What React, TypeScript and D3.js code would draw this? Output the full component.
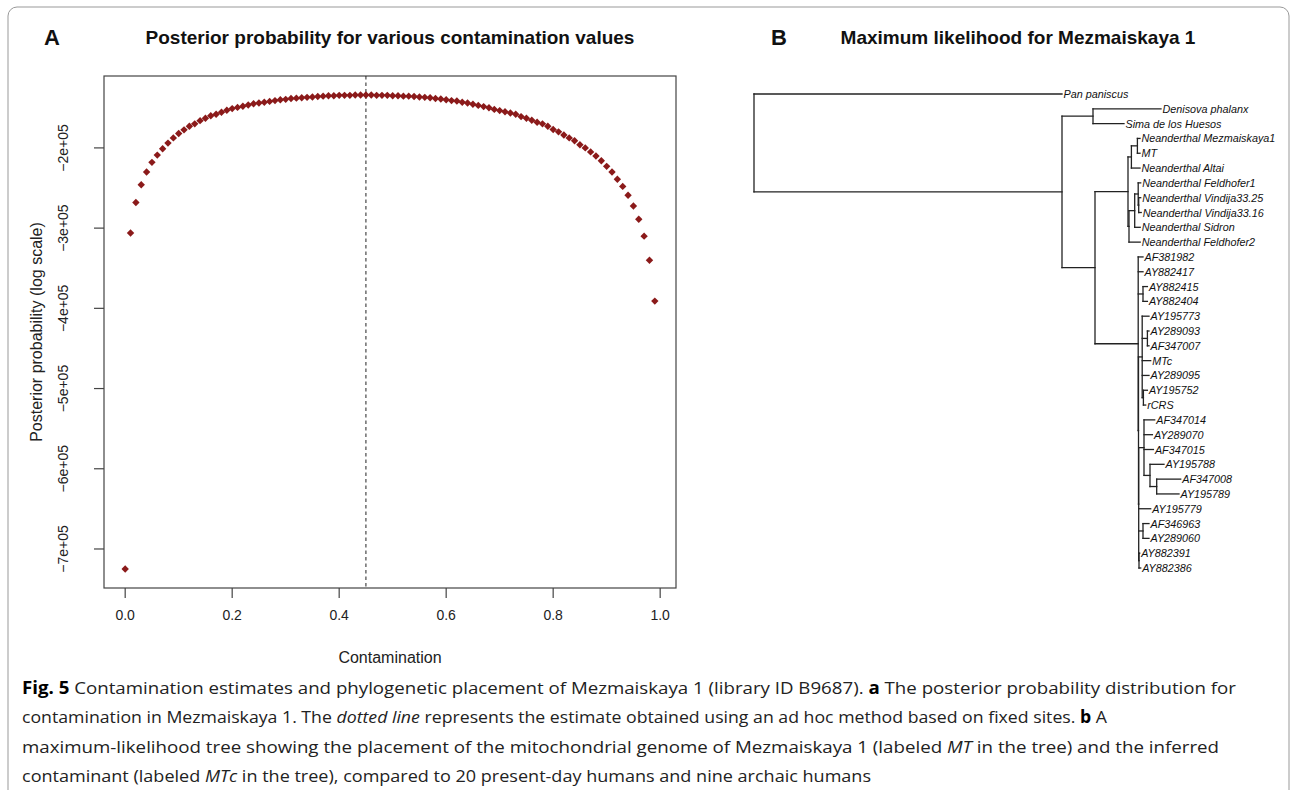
import * as React from 'react';
import * as d3 from 'd3';

// ---- panel A data: contamination grid and log posterior (x 1e5) ----
const contamination = [
  0.00, 0.01, 0.02, 0.03, 0.04, 0.05, 0.06, 0.07, 0.08, 0.09,
  0.10, 0.11, 0.12, 0.13, 0.14, 0.15, 0.16, 0.17, 0.18, 0.19,
  0.20, 0.21, 0.22, 0.23, 0.24, 0.25, 0.26, 0.27, 0.28, 0.29,
  0.30, 0.31, 0.32, 0.33, 0.34, 0.35, 0.36, 0.37, 0.38, 0.39,
  0.40, 0.41, 0.42, 0.43, 0.44, 0.45, 0.46, 0.47, 0.48, 0.49,
  0.50, 0.51, 0.52, 0.53, 0.54, 0.55, 0.56, 0.57, 0.58, 0.59,
  0.60, 0.61, 0.62, 0.63, 0.64, 0.65, 0.66, 0.67, 0.68, 0.69,
  0.70, 0.71, 0.72, 0.73, 0.74, 0.75, 0.76, 0.77, 0.78, 0.79,
  0.80, 0.81, 0.82, 0.83, 0.84, 0.85, 0.86, 0.87, 0.88, 0.89,
  0.90, 0.91, 0.92, 0.93, 0.94, 0.95, 0.96, 0.97, 0.98, 0.99,
];
const logPosterior = [
  -7.25, -3.06, -2.68, -2.46, -2.30, -2.18, -2.09, -2.01, -1.94, -1.875,
  -1.82, -1.775, -1.73, -1.70, -1.66, -1.63, -1.60, -1.58, -1.555, -1.53,
  -1.51, -1.495, -1.48, -1.465, -1.45, -1.44, -1.43, -1.42, -1.41, -1.40,
  -1.395, -1.385, -1.38, -1.375, -1.37, -1.365, -1.36, -1.355, -1.35, -1.35,
  -1.345, -1.345, -1.345, -1.34, -1.34, -1.34, -1.34, -1.345, -1.345, -1.345,
  -1.35, -1.35, -1.355, -1.355, -1.36, -1.365, -1.37, -1.375, -1.385, -1.39,
  -1.40, -1.41, -1.415, -1.43, -1.44, -1.455, -1.47, -1.485, -1.50, -1.52,
  -1.535, -1.55, -1.565, -1.58, -1.61, -1.63, -1.655, -1.68, -1.70, -1.73,
  -1.77, -1.80, -1.84, -1.875, -1.91, -1.96, -2.00, -2.05, -2.10, -2.16,
  -2.23, -2.30, -2.39, -2.48, -2.59, -2.725, -2.89, -3.10, -3.40, -3.91,
];
const adHocEstimate = 0.45;
const xTicks = [0, 0.2, 0.4, 0.6, 0.8, 1.0];
const xTickLabels = ['0.0', '0.2', '0.4', '0.6', '0.8', '1.0'];
const yTicks = [-2e5, -3e5, -4e5, -5e5, -6e5, -7e5];
const yTickLabels = ['\u22122e+05', '\u22123e+05', '\u22124e+05', '\u22125e+05', '\u22126e+05', '\u22127e+05'];

// ---- panel B data: ML tree (branch lengths) ----
type TNode = { name?: string; len: number; children?: TNode[] };
const leaf = (name: string, len: number): TNode => ({ name, len });
const clade = (len: number, ...children: TNode[]): TNode => ({ len, children });

const humans = clade(0.0432,
  leaf('AF381982', 0.0048),
  leaf('AY882417', 0.0048),
  clade(0.0048, leaf('AY882415', 0.0044), leaf('AY882404', 0.0044)),
  clade(0.0003,
    clade(0.0037,
      leaf('AY195773', 0.0068),
      clade(0.0052, leaf('AY289093', 0.0016), leaf('AF347007', 0.0016)),
      leaf('MTc', 0.0085),
      leaf('AY289095', 0.0068),
      clade(0.0012, leaf('AY195752', 0.004), leaf('rCRS', 0.0023))),
    clade(0.0002,
      clade(0.0053,
        leaf('AF347014', 0.0107),
        leaf('AY289070', 0.0084),
        leaf('AF347015', 0.0094),
        clade(0.006, leaf('AY195788', 0.014),
          clade(0.0067, leaf('AF347008', 0.024), leaf('AY195789', 0.0223)))),
      leaf('AY195779', 0.012),
      clade(0.0043, leaf('AF346963', 0.006), leaf('AY289060', 0.006)),
      clade(0.0003, leaf('AY882391', 0.0007), leaf('AY882386', 0.0017)))));

const neanderthals = clade(0.033,
  clade(0.0034,
    clade(0.006, leaf('Neanderthal Mezmaiskaya1', 0.0026), leaf('MT', 0.0026)),
    leaf('Neanderthal Altai', 0.0086)),
  clade(0.001,
    clade(0.0057,
      clade(0.0035,
        leaf('Neanderthal Feldhofer1', 0.0025),
        clade(0.0005, leaf('Neanderthal Vindija33.25', 0.002), leaf('Neanderthal Vindija33.16', 0.0025))),
      leaf('Neanderthal Sidron', 0.0055)),
    leaf('Neanderthal Feldhofer2', 0.0112)));

const tree = clade(0,
  leaf('Pan paniscus', 0.308),
  clade(0.308,
    clade(0.031, leaf('Denisova phalanx', 0.068), leaf('Sima de los Huesos', 0.031)),
    clade(0.033, neanderthals, humans)));

const FONT = '"Liberation Sans", Arial, Helvetica, sans-serif';
const CAP_FONT = '"Open Sans", "Noto Sans", sans-serif';

function PanelA() {
  const left = 104, right = 676, top = 76, bottom = 588;
  const pad = (e: [number, number]) => {
    const d = (e[1] - e[0]) * 0.04;
    return [e[0] - d, e[1] + d];
  };
  const vals = logPosterior.map(v => v * 1e5);
  const x = d3.scaleLinear().domain(pad(d3.extent(contamination) as [number, number])).range([left, right]);
  const y = d3.scaleLinear().domain(pad(d3.extent(vals) as [number, number])).range([bottom, top]);
  const r = 3.7;
  const diamond = `M0,${-r}L${r},0L0,${r}L${-r},0Z`;
  const cx = (left + right) / 2;
  return (
    <g fontFamily={FONT}>
      <text x={52} y={37} fontSize={22} fontWeight="bold" textAnchor="middle" dominantBaseline="central" fill="#111">A</text>
      <text x={cx} y={37} fontSize={19} fontWeight="bold" textAnchor="middle" dominantBaseline="central" fill="#111">
        Posterior probability for various contamination values
      </text>
      <rect x={left} y={top} width={right - left} height={bottom - top} fill="none" stroke="#444" strokeWidth={1.2} />
      <line x1={x(adHocEstimate)} x2={x(adHocEstimate)} y1={top} y2={bottom} stroke="#222" strokeWidth={1} strokeDasharray="3.5,3" />
      {contamination.map((c, i) => (
        <path key={i} d={diamond} transform={`translate(${x(c)},${y(vals[i])})`} fill="#8b1a1a" />
      ))}
      {xTicks.map((t, i) => (
        <g key={i}>
          <line x1={x(t)} x2={x(t)} y1={bottom} y2={bottom + 10} stroke="#444" strokeWidth={1.2} />
          <text x={x(t)} y={615} fontSize={14} textAnchor="middle" dominantBaseline="central" fill="#222">{xTickLabels[i]}</text>
        </g>
      ))}
      {yTicks.map((t, i) => (
        <g key={i}>
          <line x1={left - 10} x2={left} y1={y(t)} y2={y(t)} stroke="#444" strokeWidth={1.2} />
          <text transform={`translate(63,${y(t)}) rotate(-90)`} fontSize={14} textAnchor="middle" dominantBaseline="central" fill="#222">{yTickLabels[i]}</text>
        </g>
      ))}
      <text x={cx} y={657} fontSize={16} textAnchor="middle" dominantBaseline="central" fill="#222">Contamination</text>
      <text transform={`translate(36,${(top + bottom) / 2}) rotate(-90)`} fontSize={16} textAnchor="middle" dominantBaseline="central" fill="#222">
        Posterior probability (log scale)
      </text>
    </g>
  );
}

function PanelB() {
  const root = d3.hierarchy<TNode>(tree, d => d.children);
  const leaves = root.leaves();
  const yLeaf = d3.scaleLinear().domain([0, leaves.length - 1]).range([94, 568]);
  const xDist = d3.scaleLinear().domain([0, 0.426]).range([754, 1180]);
  const pos = new Map<any, { x: number; y: number }>();
  leaves.forEach((l, i) => pos.set(l, { x: 0, y: yLeaf(i) }));
  const dist = new Map<any, number>();
  root.eachBefore(n => dist.set(n, (n.parent ? dist.get(n.parent)! : 0) + n.data.len));
  root.eachAfter(n => {
    const p = pos.get(n) || { x: 0, y: 0 };
    p.x = xDist(dist.get(n)!);
    if (n.children) {
      const a = pos.get(n.children[0])!.y;
      const b = pos.get(n.children[n.children.length - 1])!.y;
      p.y = (a + b) / 2;
    }
    pos.set(n, p);
  });
  const segs: { x1: number; y1: number; x2: number; y2: number }[] = [];
  root.each(n => {
    const p = pos.get(n)!;
    if (n.parent) {
      const pp = pos.get(n.parent)!;
      segs.push({ x1: pp.x, y1: p.y, x2: p.x, y2: p.y });
    }
    if (n.children) {
      const a = pos.get(n.children[0])!.y;
      const b = pos.get(n.children[n.children.length - 1])!.y;
      segs.push({ x1: p.x, y1: a, x2: p.x, y2: b });
    }
  });
  return (
    <g fontFamily={FONT}>
      <text x={779} y={37} fontSize={22} fontWeight="bold" textAnchor="middle" dominantBaseline="central" fill="#111">B</text>
      <text x={1018} y={37} fontSize={19} fontWeight="bold" textAnchor="middle" dominantBaseline="central" fill="#111">
        Maximum likelihood for Mezmaiskaya 1
      </text>
      {segs.map((s, i) => (
        <line key={i} x1={s.x1} y1={s.y1} x2={s.x2} y2={s.y2} stroke="#222" strokeWidth={1.3} strokeLinecap="square" />
      ))}
      {leaves.map((l, i) => {
        const p = pos.get(l)!;
        return (
          <text key={i} x={p.x + 1.5} y={p.y} fontSize={10.8} fontStyle="italic" dominantBaseline="central" fill="#111">
            {l.data.name}
          </text>
        );
      })}
    </g>
  );
}

function Caption() {
  const lx = 22;
  const lines = [
    { y: 694, end: 1236 },
    { y: 723, end: 1107 },
    { y: 753, end: 1219 },
    { y: 782, end: 871 },
  ];
  const common = { x: lx, fontSize: 17, fontFamily: CAP_FONT, fill: '#222', lengthAdjust: 'spacingAndGlyphs' as const };
  return (
    <g>
      <text {...common} y={lines[0].y} textLength={lines[0].end - lx}>
        <tspan fontWeight="bold" fill="#000">Fig. 5</tspan> Contamination estimates and phylogenetic placement of Mezmaiskaya 1 (library ID B9687). <tspan fontWeight="bold" fill="#000">a</tspan> The posterior probability distribution for
      </text>
      <text {...common} y={lines[1].y} textLength={lines[1].end - lx}>
        contamination in Mezmaiskaya 1. The <tspan fontStyle="italic">dotted line</tspan> represents the estimate obtained using an ad hoc method based on fixed sites. <tspan fontWeight="bold" fill="#000">b</tspan> A
      </text>
      <text {...common} y={lines[2].y} textLength={lines[2].end - lx}>
        maximum-likelihood tree showing the placement of the mitochondrial genome of Mezmaiskaya 1 (labeled <tspan fontStyle="italic">MT</tspan> in the tree) and the inferred
      </text>
      <text {...common} y={lines[3].y} textLength={lines[3].end - lx}>
        contaminant (labeled <tspan fontStyle="italic">MTc</tspan> in the tree), compared to 20 present-day humans and nine archaic humans
      </text>
    </g>
  );
}

export default function App() {
  return (
    <svg width={1294} height={790} style={{ position: 'absolute', left: 0, top: 0, background: '#fff' }}>
      <rect x={0} y={0} width={1294} height={790} fill="#fff" />
      <rect x={8} y={7} width={1281} height={820} rx={9} ry={9} fill="none" stroke="#999" strokeWidth={1} />
      <PanelA />
      <PanelB />
      <Caption />
    </svg>
  );
}
